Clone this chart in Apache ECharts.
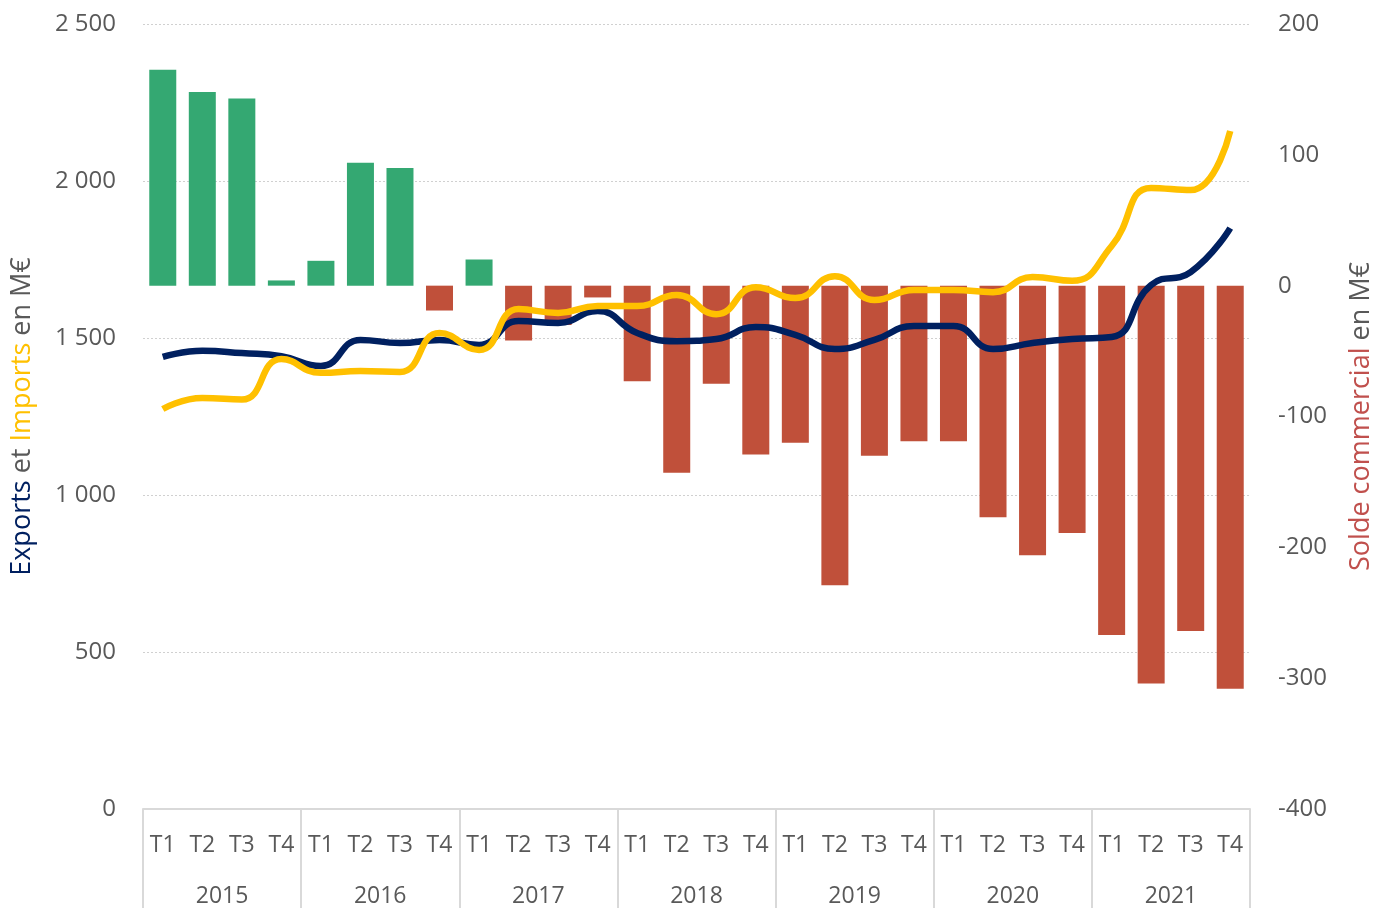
<!DOCTYPE html>
<html>
<head>
<meta charset="utf-8">
<script src="https://cdn.jsdelivr.net/npm/echarts@6/dist/echarts.min.js"></script>
<style>
html,body{margin:0;padding:0;background:#fff;}
#chart{width:1374px;height:908px;}
</style>
</head>
<body>
<div id="chart"></div>
<script>
const quarters = ['T1','T2','T3','T4','T1','T2','T3','T4','T1','T2','T3','T4','T1','T2','T3','T4','T1','T2','T3','T4','T1','T2','T3','T4','T1','T2','T3','T4'];
const years = ['2015','2016','2017','2018','2019','2020','2021'];
const exportsData = [1440,1459,1452,1442, 1411,1494,1484,1494, 1478,1554,1548,1586, 1516,1490,1497,1535, 1510,1465,1494,1538, 1538,1465,1484,1497, 1503,1669,1710,1850];
const importsData = [1274,1309,1304,1433, 1389,1395,1392,1516, 1462,1592,1580,1602, 1602,1637,1576,1662, 1627,1697,1621,1653, 1653,1646,1694,1682, 1793,1978,1971,2159];
const balanceData = [165,148,143,4, 19,94,90,-19, 20,-42,-30,-9, -73,-143,-75,-129, -120,-229,-130,-119, -119,-177,-206,-189, -267,-304,-264,-308];

const FONT = 'Open Sans';
const GRAY = '#595959';
const chart = echarts.init(document.getElementById('chart'));
chart.setOption({
  animation: false,
  textStyle: {fontFamily: FONT},
  grid: {left: 143, right: 124, top: 24, bottom: 99, containLabel: false, outerBoundsMode: 'none'},
  xAxis: [
    {
      type: 'category', data: quarters, position: 'bottom',
      axisLine: {show: true, onZero: false, lineStyle: {color: '#d9d9d9', width: 2}},
      axisTick: {show: false},
      axisLabel: {interval: 0, margin: 25, color: GRAY, fontSize: 23, fontFamily: FONT},
      splitLine: {show: false}
    },
    {
      type: 'category', data: years, position: 'bottom',
      axisLine: {show: false, onZero: false},
      axisTick: {show: true, length: 100, interval: 0, lineStyle: {color: '#d9d9d9', width: 2}},
      axisLabel: {interval: 0, margin: 76, color: GRAY, fontSize: 23, fontFamily: FONT},
      splitLine: {show: false}
    }
  ],
  yAxis: [
    {
      type: 'value', min: 0, max: 2500, interval: 500, position: 'left',
      name: '{a|Exports} et {b|Imports} en M€',
      nameLocation: 'middle', nameGap: 107,
      nameTextStyle: {color: GRAY, fontSize: 27, fontFamily: FONT,
        rich: {a: {color: '#002060', fontSize: 27, fontFamily: FONT}, b: {color: '#FFC000', fontSize: 27, fontFamily: FONT}}},
      axisLine: {show: false}, axisTick: {show: false},
      axisLabel: {margin: 27, color: GRAY, fontSize: 24, fontFamily: FONT,
        formatter: v => String(v).replace(/\B(?=(\d{3})+(?!\d))/g, ' ')},
      splitLine: {show: true, lineStyle: {color: '#d0d0d0', type: [2, 2], width: 1}}
    },
    {
      type: 'value', min: -400, max: 200, interval: 100, position: 'right',
      name: '{a|Solde commercial} en M€',
      nameLocation: 'middle', nameGap: 98,
      nameTextStyle: {color: GRAY, fontSize: 27, fontFamily: FONT,
        rich: {a: {color: '#C0504D', fontSize: 27, fontFamily: FONT}}},
      axisLine: {show: false}, axisTick: {show: false},
      axisLabel: {margin: 28, color: GRAY, fontSize: 24, fontFamily: FONT},
      splitLine: {show: false}
    }
  ],
  series: [
    {
      name: 'Solde', type: 'bar', xAxisIndex: 0, yAxisIndex: 1, data: balanceData,
      barWidth: 27,
      itemStyle: {color: p => p.value >= 0 ? '#34A872' : '#C0503A'}
    },
    {
      name: 'Exports', type: 'line', xAxisIndex: 0, yAxisIndex: 0, data: exportsData,
      smooth: 0.5, symbol: 'none', lineStyle: {color: '#002060', width: 6.5}
    },
    {
      name: 'Imports', type: 'line', xAxisIndex: 0, yAxisIndex: 0, data: importsData,
      smooth: 0.5, symbol: 'none', lineStyle: {color: '#FFC000', width: 6.5}
    }
  ]
});
</script>
</body>
</html>
